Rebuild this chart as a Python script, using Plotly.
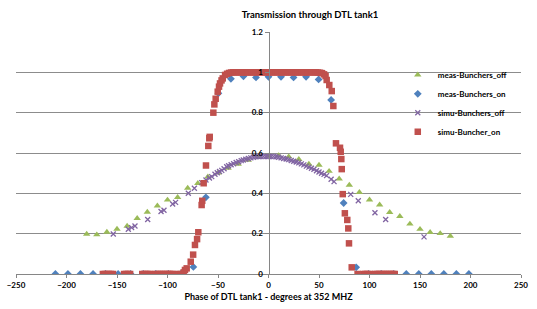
import plotly.graph_objects as go

# ---------------- data ----------------
meas_off_x = [-180, -170, -160, -150, -140, -130, -120, -110, -100, -90, -80, -70, -60, -50, -40,
              -30, -20, -10, 0, 10, 20, 30, 40, 50, 60, 70, 80, 90, 100, 110, 120, 130, 140, 150,
              160, 170, 180]
meas_off_y = [0.198, 0.195, 0.208, 0.223, 0.238, 0.276, 0.307, 0.338, 0.367, 0.380, 0.426, 0.450,
              0.482, 0.502, 0.525, 0.545, 0.565, 0.578, 0.585, 0.588, 0.582, 0.569, 0.545, 0.540,
              0.510, 0.472, 0.441, 0.405, 0.368, 0.343, 0.306, 0.286, 0.248, 0.222, 0.207, 0.201,
              0.188]

meas_on_x = [-211.0, -198.6, -186.2, -173.7, -161.3, -148.9, -136.5, -124.1, -111.6, -99.2, -86.8,
             -74.4, -62.0, -49.6, -37.2, -24.8, -12.4, 0.0, 12.4, 24.8, 37.2, 49.6, 62.0, 74.4,
             86.8, 99.2, 111.6, 124.0, 136.4, 148.8, 161.2, 173.6, 186.0, 198.4]
meas_on_y = [0, 0, 0, 0, 0, 0, 0, 0, 0, 0, 0,
             0.035, 0.380, 0.896, 0.968, 0.980, 0.975, 0.978, 0.978, 0.975, 0.978, 0.965, 0.863,
             0.352, 0.033, 0, 0, 0, 0, 0, 0, 0, 0, 0]

simu_off_x = [-153.7, -138.8, -135.5, -132.2, -119.6, -106.4, -103.5, -94.9, -92.0, -79.4, -73.4,
              -66.1, -61.9, -58.5, -56.2, -53.0, -50.7, -48.5, -46.3, -44.0, -41.4, -39.5, -37.0,
              -34.5, -32.0, -29.5, -27.0, -25.0, -22.5, -20.0, -17.5, -15.0, -12.5, -10.0, -7.5,
              -5.0, -2.5, 0.0, 2.5, 5.0, 7.5, 10.0, 12.5, 15.0, 17.5, 20.0, 22.5, 25.0, 27.5,
              30.0, 32.5, 35.0, 37.5, 40.0, 42.5, 45.0, 47.5, 50.0, 52.5, 55.0, 57.5, 62.0,
              64.9, 81.4, 88.9, 105.4, 116.0, 154.0]
simu_off_y = [0.198, 0.222, 0.230, 0.238, 0.270, 0.310, 0.316, 0.347, 0.355, 0.400, 0.425,
              0.453, 0.466, 0.476, 0.483, 0.495, 0.502, 0.508, 0.514, 0.522, 0.532, 0.537, 0.542,
              0.547, 0.553, 0.557, 0.562, 0.565, 0.569, 0.573, 0.576, 0.579, 0.581, 0.582, 0.583,
              0.583, 0.583, 0.583, 0.583, 0.582, 0.581, 0.579, 0.576, 0.573, 0.570, 0.567, 0.563,
              0.559, 0.555, 0.551, 0.546, 0.541, 0.535, 0.530, 0.524, 0.519, 0.512, 0.506, 0.500,
              0.494, 0.488, 0.470, 0.458, 0.395, 0.363, 0.304, 0.270, 0.184]

simu_on_x = [-164, -162, -160, -158, -156, -154, -143, -141, -139, -137, -125, -123, -121, -119,
             -117, -112, -110, -108, -106, -104, -102, -100, -98, -96, -94.5, -89, -87,
             -84, -82.7, -81, -77, -74.6, -72.8, -70.7, -69.5, -66.2, -65.6, -64.2, -61.9, -59.6,
             -58.6, -58.2, -54.6, -53.6, -52.3, -50.3, -49, -48, -46.5, -45.3, -43, -41, -39,
             -37, -35, -33, -31, -29, -27, -25, -23, -21, -19, -17, -15, -13, -11, -9, -7, -5,
             -3, -1, 1, 3, 5, 7, 9, 11, 13, 15, 17, 19, 21, 23, 25, 27, 29, 31, 33, 35, 37, 39,
             41, 43, 45, 47, 49, 51, 53, 55, 56.5, 57.6, 60.2, 62.6, 64.2, 66.8, 70.8, 71.5, 72.1,
             72.5, 73.5, 75.6, 78, 79, 79.7, 82.4, 88.2, 94, 96, 98, 100.5, 105.5, 107.5, 109.5,
             111.5, 113.5, 115.5, 117.5, 119.5, 121.5, 123.5, 125, 142]
simu_on_y = [0, 0, 0, 0, 0, 0, 0, 0, 0, 0, 0, 0, 0, 0,
             0, 0, 0, 0, 0, 0, 0, 0, 0, 0, 0, 0, 0,
             0.008, 0.020, 0.028, 0.061, 0.096, 0.144, 0.173, 0.207, 0.342, 0.363, 0.450, 0.538,
             0.635, 0.673, 0.680, 0.800, 0.841, 0.869, 0.904, 0.929, 0.945, 0.960, 0.970, 0.987,
             0.993, 0.997, 0.999, 1.0, 1.0, 1.0, 1.0, 1.0, 1.0, 1.0, 1.0, 1.0, 1.0, 1.0, 1.0, 1.0,
             1.0, 1.0, 1.0, 1.0, 1.0, 1.0, 1.0, 1.0, 1.0, 1.0, 1.0, 1.0, 1.0, 1.0, 1.0, 1.0, 1.0,
             1.0, 1.0, 1.0, 1.0, 1.0, 1.0, 1.0, 1.0, 1.0, 1.0, 1.0, 1.0, 0.999, 0.998, 0.996,
             0.990, 0.982, 0.962, 0.937, 0.907, 0.833, 0.648, 0.626, 0.606, 0.570, 0.520, 0.396,
             0.301, 0.268, 0.226, 0.152, 0.033, 0, 0, 0, 0, 0, 0, 0, 0, 0, 0, 0, 0, 0, 0, 0, 0]

x_ticks = [-250, -200, -150, -100, -50, 0, 50, 100, 150, 200, 250]
y_ticks = [0, 0.2, 0.4, 0.6, 0.8, 1.0, 1.2]

# ---------------- figure ----------------
FONT = "Lato"
fig = go.Figure()
fig.add_trace(go.Scatter(x=meas_off_x, y=meas_off_y, mode="markers", name="meas-Bunchers_off",
                         marker=dict(symbol="triangle-up", size=6.5, color="#9BBB59")))
fig.add_trace(go.Scatter(x=meas_on_x, y=meas_on_y, mode="markers", name="meas-Bunchers_on",
                         marker=dict(symbol="diamond", size=6, color="#4F81BD")))
fig.add_trace(go.Scatter(x=simu_off_x, y=simu_off_y, mode="markers", name="simu-Bunchers_off",
                         marker=dict(symbol="x-thin", size=5, color="#8064A2",
                                     line=dict(width=1.3, color="#8064A2"))))
fig.add_trace(go.Scatter(x=simu_on_x, y=simu_on_y, mode="markers", name="simu-Buncher_on",
                         marker=dict(symbol="square", size=6.5, color="#C0504D")))

fig.update_layout(
    width=537, height=309,
    margin=dict(l=16, r=16, t=32, b=35, autoexpand=False),
    paper_bgcolor="white", plot_bgcolor="white",
    font=dict(family=FONT, size=8, color="#000000", weight="bold"),
    title=dict(text="Transmission through DTL tank1", x=310 / 537, xref="container",
               xanchor="center", y=1 - 15 / 309, yref="container", yanchor="middle",
               font=dict(family=FONT, size=9.5, color="#000000", weight="bold")),
    legend=dict(x=0.756, y=0.883, xanchor="left", yanchor="top", bgcolor="rgba(0,0,0,0)",
                font=dict(family=FONT, size=8, color="#000000", weight="bold"),
                itemwidth=30, tracegroupgap=0),
    xaxis=dict(range=[-250, 250], tickvals=x_ticks, showgrid=False, zeroline=False,
               automargin=False,
               showline=True, linecolor="#868686", linewidth=1,
               ticks="outside", ticklen=3, tickcolor="#868686",
               tickfont=dict(family=FONT, size=8, color="#000000", weight="bold"),
               title=dict(text="Phase of DTL tank1 - degrees at 352 MHZ", standoff=5,
                          font=dict(family=FONT, size=9, color="#000000", weight="bold"))),
    yaxis=dict(range=[0, 1.2], tickvals=y_ticks, anchor="free", position=0.5,
               automargin=False,
               showgrid=True, gridcolor="#8c8c8c", gridwidth=1, zeroline=False,
               showline=True, linecolor="#868686", linewidth=1,
               ticks="outside", ticklen=4, tickcolor="#868686",
               tickfont=dict(family=FONT, size=8, color="#000000", weight="bold")),
)

fig.write_html("out.html", config={"displayModeBar": False},
               post_script="document.body.style.margin='0px';document.body.style.overflow='hidden';")
